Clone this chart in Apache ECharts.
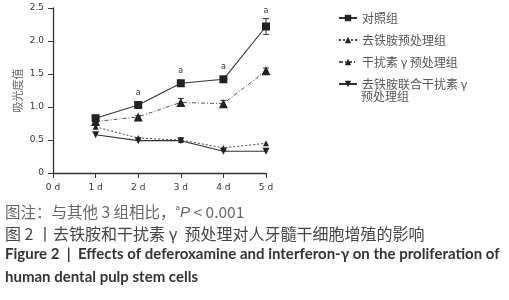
<!DOCTYPE html>
<html>
<head>
<meta charset="utf-8">
<script src="https://cdn.jsdelivr.net/npm/echarts@6/dist/echarts.min.js"></script>
<style>
  html, body { margin: 0; padding: 0; background: #fff; }
  #chart { width: 509px; height: 300px; }
</style>
</head>
<body>
<div id="chart"></div>
<script>
// datos
const days = [1, 2, 3, 4, 5];
const xTickLabels = ['0 d', '1 d', '2 d', '3 d', '4 d', '5 d'];
const seriesNames = ['对照组', '去铁胺预处理组', '干扰素 γ 预处理组', '去铁胺联合干扰素 γ'];
const lastNameLine2 = '预处理组';
const controlVals = [0.83, 1.03, 1.36, 1.42, 2.22];
const dfoVals = [0.70, 0.53, 0.50, 0.38, 0.45];
const ifnVals = [0.78, 0.85, 1.07, 1.05, 1.55];
const comboVals = [0.58, 0.49, 0.49, 0.33, 0.33];
const controlErr = [0.03, 0.03, 0.03, 0.03, 0.12];
const ifnErr = [0.02, 0.02, 0.06, 0.05, 0.04];
const sigMarks = ['', 'a', 'a', 'a', 'a'];

const chart = echarts.init(document.getElementById('chart'));
const axisColor = '#333';
const cjk = '"Noto Sans CJK SC", sans-serif';

function pairs(vals) {
    return vals.map((v, i) => [days[i], v]);
}

// barras de error como serie custom
function errorSeries(vals, errs) {
    return {
        type: 'custom',
        silent: true,
        z: 1,
        data: vals.map((v, i) => [days[i], v - errs[i], v + errs[i]]),
        renderItem: (params, api) => {
            const lo = api.coord([api.value(0), api.value(1)]);
            const hi = api.coord([api.value(0), api.value(2)]);
            const w = 3;
            const style = { stroke: axisColor, lineWidth: 1 };
            return {
                type: 'group',
                children: [
                    { type: 'line', shape: { x1: lo[0], y1: lo[1], x2: hi[0], y2: hi[1] }, style },
                    { type: 'line', shape: { x1: lo[0] - w, y1: lo[1], x2: lo[0] + w, y2: lo[1] }, style },
                    { type: 'line', shape: { x1: hi[0] - w, y1: hi[1], x2: hi[0] + w, y2: hi[1] }, style }
                ]
            };
        }
    };
}

const option = {
    animation: false,
    grid: { left: 53, top: 8, width: 213, height: 165 },
    xAxis: {
        type: 'value',
        min: 0,
        max: 5,
        interval: 1,
        splitLine: { show: false },
        axisLine: { lineStyle: { color: axisColor, width: 1.3 } },
        axisTick: { show: true, length: 5, lineStyle: { color: axisColor } },
        axisLabel: {
            color: axisColor, fontSize: 9, fontFamily: 'DejaVu Sans', margin: 10,
            formatter: v => xTickLabels[v]
        }
    },
    yAxis: {
        type: 'value',
        min: 0,
        max: 2.5,
        interval: 0.5,
        name: '吸光度值',
        nameLocation: 'middle',
        nameGap: 30,
        nameTextStyle: { color: '#666', fontSize: 11, fontFamily: cjk },
        splitLine: { show: false },
        axisLine: { show: true, lineStyle: { color: axisColor, width: 1.3 } },
        axisTick: { show: true, length: 5, lineStyle: { color: axisColor } },
        axisLabel: {
            color: axisColor, fontSize: 9, fontFamily: 'DejaVu Sans', margin: 9,
            formatter: v => (v === 0 ? '0' : v.toFixed(1))
        }
    },
    legend: {
        orient: 'vertical',
        left: 338,
        top: 12,
        itemWidth: 18,
        itemHeight: 8,
        itemGap: 10,
        padding: 0,
        textStyle: { color: '#555', fontSize: 12, fontFamily: cjk },
        data: seriesNames
    },
    series: [
        errorSeries(controlVals, controlErr),
        errorSeries(ifnVals, ifnErr),
        {
            name: seriesNames[0],
            type: 'line',
            data: pairs(controlVals).map((p, i) => ({
                value: p,
                label: {
                    show: sigMarks[i] !== '',
                    formatter: sigMarks[i],
                    position: 'top',
                    distance: i === 4 ? 8 : 4,
                    color: axisColor,
                    fontSize: 8,
                    fontFamily: 'DejaVu Sans'
                }
            })),
            symbol: 'rect',
            symbolSize: 8,
            itemStyle: { color: '#222' },
            lineStyle: { color: '#333', width: 1.1 },
            z: 5
        },
        {
            name: seriesNames[1],
            type: 'line',
            data: pairs(dfoVals),
            symbol: 'triangle',
            symbolSize: 6,
            itemStyle: { color: '#222' },
            lineStyle: { color: '#444', width: 1, type: [2, 2] },
            z: 4
        },
        {
            name: seriesNames[2],
            type: 'line',
            data: pairs(ifnVals),
            symbol: 'triangle',
            symbolSize: 9,
            itemStyle: { color: '#222' },
            lineStyle: { color: '#555', width: 1, type: [4, 2, 1, 2] },
            z: 4
        },
        {
            name: seriesNames[3],
            type: 'line',
            data: pairs(comboVals),
            symbol: 'triangle',
            symbolRotate: 180,
            symbolSize: 7,
            itemStyle: { color: '#222' },
            lineStyle: { color: '#333', width: 1.1 },
            z: 3
        }
    ],
    graphic: [
        {
            type: 'text', left: 361, top: 90,
            style: { text: lastNameLine2, fill: '#555', fontSize: 12, fontFamily: cjk }
        },
        {
            type: 'text', left: 5, top: 204,
            style: {
                text: '图注：与其他 3 组相比，{sup|a}{it|P} < 0.001',
                fill: '#666', fontSize: 15.5, fontFamily: cjk,
                rich: {
                    sup: { fontSize: 8, verticalAlign: 'top', padding: [0, 0, 9, 0], fill: '#666' },
                    it: { fontStyle: 'italic', fontSize: 15, fill: '#666', fontFamily: 'Liberation Sans' }
                }
            }
        },
        {
            type: 'text', left: 5, top: 226,
            style: {
                text: '图 2 丨去铁胺和干扰素 γ  预处理对人牙髓干细胞增殖的影响',
                fill: '#444', fontSize: 16, fontFamily: cjk
            }
        },
        {
            type: 'text', left: 5, top: 247,
            style: {
                text: 'Figure 2  |  Effects of deferoxamine and interferon-γ on the proliferation of',
                fill: '#333', fontSize: 15, fontWeight: 'bold', fontFamily: 'Lato'
            }
        },
        {
            type: 'text', left: 5, top: 270,
            style: {
                text: 'human dental pulp stem cells',
                fill: '#333', fontSize: 15, fontWeight: 'bold', fontFamily: 'Lato'
            }
        }
    ]
};

chart.setOption(option);
</script>
</body>
</html>
